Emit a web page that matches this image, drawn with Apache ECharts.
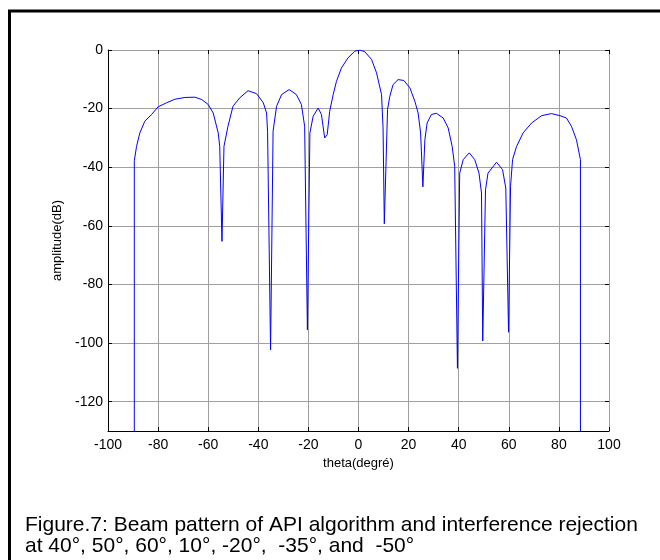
<!DOCTYPE html>
<html>
<head>
<meta charset="utf-8">
<title>Beam pattern</title>
<script src="https://cdn.jsdelivr.net/npm/echarts@6/dist/echarts.min.js"></script>
<style>
  html, body { margin: 0; padding: 0; background: #fff; }
  #chart { width: 660px; height: 560px; }
</style>
</head>
<body>
<div id="chart"></div>
<script>
// Angles (degrees)
const theta = [
  -89.5, -89.5, -88.6, -87.3, -85.3, -82.6, -80.0, -76.6, -73.3, -69.3, -65.3, -62.6,
  -60.0, -58.0, -56.0, -55.4, -54.5, -53.7, -52.1, -50.1, -47.4, -44.1, -40.7, -38.0,
  -36.7, -36.3, -35.1, -34.1, -32.7, -30.7, -27.7, -24.8, -22.8, -21.5, -20.4, -19.4,
  -18.1, -16.1, -14.8, -13.5, -13.1, -12.5, -11.5, -10.1, -8.8, -6.8, -4.2, -1.5,
  0.5, 2.5, 5.2, 7.2, 9.2, 9.8, 10.3, 11.6, 12.5, 13.8, 15.8, 18.1,
  20.5, 22.5, 23.8, 24.8, 25.7, 26.5, 27.4, 29.1, 31.1, 33.8, 35.8, 37.4,
  38.4, 39.5, 40.4, 41.8, 44.2, 46.4, 48.1, 49.1, 49.6, 50.7, 51.7, 55.1,
  57.5, 58.8, 59.9, 60.7, 61.5, 63.1, 65.7, 69.1, 73.1, 77.0, 80.4, 83.0,
  85.0, 87.0, 88.6, 88.6
];

// Amplitude (dB) at each angle
const amplitude = [
  -300, -37.8, -32.9, -28.3, -24.3, -22.0, -19.4, -18.0, -16.8, -16.2, -16.1, -16.9,
  -18.6, -21.5, -28.3, -32.9, -65.3, -32.9, -26.0, -19.2, -16.3, -13.9, -14.9, -18.0,
  -21.5, -27.7, -102.3, -27.7, -19.2, -15.2, -13.5, -15.2, -18.6, -26.0, -95.5, -28.3,
  -22.6, -19.8, -22.0, -30.0, -30.6, -28.9, -20.9, -15.2, -10.7, -6.1, -2.7, -0.4,
  0, -0.6, -3.2, -7.8, -15.2, -26.6, -59.3, -20.3, -15.8, -11.8, -10.1, -10.4,
  -12.9, -17.5, -21.5, -28.3, -46.7, -30.6, -24.9, -22.0, -21.6, -23.2, -26.6, -32.9,
  -39.7, -108.6, -42.0, -37.4, -35.1, -37.4, -42.0, -48.8, -99.3, -47.7, -42.0, -38.3,
  -40.8, -47.1, -96.3, -46.5, -37.4, -32.9, -28.3, -24.9, -22.4, -21.7, -22.4, -23.2,
  -26.0, -30.6, -37.4, -300
];

const captionLines = [
  'Figure.7: Beam pattern of API algorithm and interference rejection',
  'at 40°, 50°, 60°, 10°, -20°,  -35°, and  -50°'
];

const gridGray = '#a0a0a0';
const font = 'Arial, "Liberation Sans", sans-serif';

const chart = echarts.init(document.getElementById('chart'), null, { renderer: 'canvas' });

const points = theta.map((t, i) => [t, amplitude[i]]);

// shared settings for the box axes (top / right)
const boxTick = { show: true, inside: true, length: 4, lineStyle: { color: '#000', width: 1 } };

const option = {
  backgroundColor: '#fff',
  animation: false,
  grid: { left: 108, top: 50, width: 501, height: 381, containLabel: false },
  xAxis: [
    {
      type: 'value',
      min: -100,
      max: 100,
      interval: 20,
      position: 'bottom',
      name: 'theta(degré)',
      nameLocation: 'middle',
      nameGap: 26,
      nameTextStyle: { fontFamily: font, fontSize: 13, color: '#000' },
      axisLine: { onZero: false, lineStyle: { color: '#000', width: 1 } },
      axisTick: boxTick,
      axisLabel: { fontFamily: font, fontSize: 14, color: '#000', margin: 7 },
      splitLine: { show: true, lineStyle: { color: gridGray, width: 1 } }
    },
    {
      type: 'value',
      min: -100,
      max: 100,
      interval: 20,
      position: 'top',
      axisLine: { onZero: false, lineStyle: { color: gridGray, width: 1 } },
      axisTick: boxTick,
      axisLabel: { show: false },
      splitLine: { show: false }
    }
  ],
  yAxis: [
    {
      type: 'value',
      min: -130,
      max: 0,
      splitNumber: 7,
      position: 'left',
      name: 'amplitude(dB)',
      nameLocation: 'middle',
      nameGap: 43,
      nameTextStyle: { fontFamily: font, fontSize: 13, color: '#000' },
      axisLine: { onZero: false, lineStyle: { color: '#000', width: 1 } },
      axisTick: boxTick,
      axisLabel: { fontFamily: font, fontSize: 14, color: '#000', margin: 5, showMinLabel: false },
      splitLine: { show: true, lineStyle: { color: gridGray, width: 1 } }
    },
    {
      type: 'value',
      min: -130,
      max: 0,
      splitNumber: 7,
      position: 'right',
      axisLine: { onZero: false, lineStyle: { color: gridGray, width: 1 } },
      axisTick: boxTick,
      axisLabel: { show: false },
      splitLine: { show: false }
    }
  ],
  series: [
    {
      type: 'line',
      data: points,
      xAxisIndex: 0,
      yAxisIndex: 0,
      showSymbol: false,
      symbol: 'none',
      smooth: false,
      clip: true,
      lineStyle: { color: '#0000ff', width: 1 },
      z: 3
    }
  ],
  graphic: [
    // figure frame (runs off the right and bottom edges)
    {
      type: 'rect',
      shape: { x: 9.5, y: 11, width: 700, height: 600 },
      style: { fill: 'none', stroke: '#000', lineWidth: 3 },
      silent: true
    },
    {
      type: 'text',
      left: 25,
      top: 515,
      style: {
        text: captionLines.join('\n'),
        font: '21px ' + font,
        lineHeight: 21,
        fill: '#000'
      }
    }
  ]
};

chart.setOption(option);
</script>
</body>
</html>
